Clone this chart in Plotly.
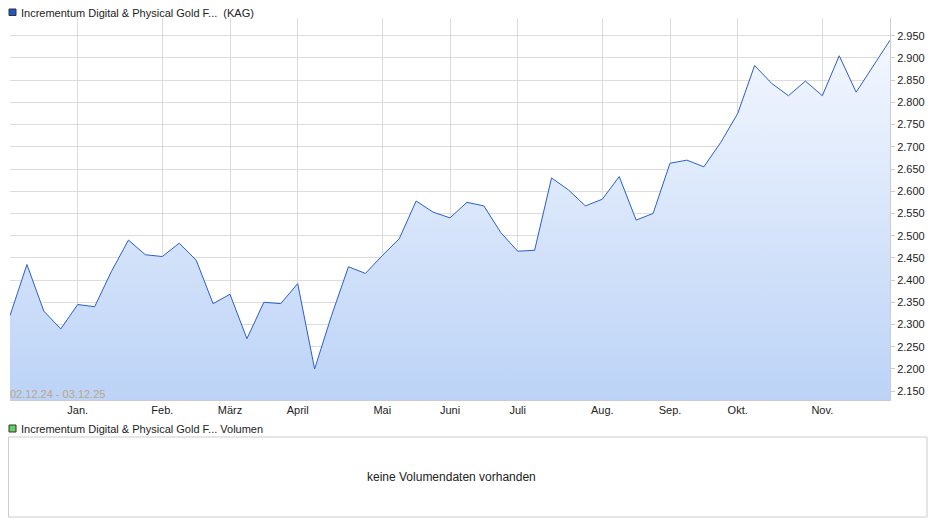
import plotly.graph_objs as go
import pandas as pd

dates = pd.date_range("2024-12-02", periods=53, freq="7D")
values = [2.32, 2.435, 2.33, 2.29, 2.345, 2.34, 2.42, 2.49, 2.457, 2.453,
          2.483, 2.445, 2.347, 2.368, 2.268, 2.35, 2.347, 2.392, 2.2, 2.32,
          2.43, 2.415, 2.455, 2.493, 2.578, 2.553, 2.54, 2.575, 2.567, 2.507,
          2.465, 2.467, 2.63, 2.603, 2.567, 2.582, 2.633, 2.535, 2.55, 2.663,
          2.67, 2.655, 2.71, 2.775, 2.883, 2.843, 2.815, 2.848, 2.815, 2.905,
          2.823, 2.88, 2.94]
tick_dates = ["2024-12-30", "2025-02-03", "2025-03-03", "2025-03-31", "2025-05-05",
              "2025-06-02", "2025-06-30", "2025-08-04", "2025-09-01", "2025-09-29",
              "2025-11-03"]
tick_text = ["Jan.", "Feb.", "März", "April", "Mai", "Juni", "Juli", "Aug.",
             "Sep.", "Okt.", "Nov."]
ytick_vals = [2.15 + 0.05 * i for i in range(17)]
ytick_text = [f"{v:.3f}" for v in ytick_vals]

ymin, ymax = 2.13, 2.99
# page puts the figure at an 8px offset, so size and place relative to that
OFF = 8
W, H = 940 - OFF, 526 - OFF
px = lambda x: (x - OFF) / W
py = lambda y: 1 - (y - OFF) / H

base = go.Scatter(x=dates, y=[ymin] * len(dates), mode="lines",
                  line=dict(width=0), hoverinfo="skip", showlegend=False)
line = go.Scatter(x=dates, y=values, mode="lines", fill="tonexty",
                  line=dict(color="#2a5fc9", width=1),
                  fillgradient=dict(type="vertical",
                                    colorscale=[[0, "#bcd3f7"], [1, "#f3f7fe"]]),
                  showlegend=False)

fig = go.Figure(data=[base, line])

font = dict(family="Liberation Sans, Arial", size=11, color="#222")
fig.update_layout(
    width=W, height=H, margin=dict(l=0, r=0, t=0, b=0),
    paper_bgcolor="white", plot_bgcolor="white", font=font,
    xaxis=dict(domain=[px(10), px(890)], type="date",
               range=[dates[0], dates[-1]],
               tickvals=tick_dates, ticktext=tick_text,
               showgrid=True, gridcolor="#dcdcdc", zeroline=False,
               showline=True, linecolor="#cccccc", ticks="", ticklen=0),
    yaxis=dict(domain=[py(400), py(18)], range=[ymin, ymax], side="right",
               tickvals=ytick_vals, ticktext=ytick_text,
               showgrid=True, gridcolor="#dcdcdc", zeroline=False,
               showline=True, linecolor="#cccccc", ticks="outside",
               ticklen=4, tickcolor="#cccccc"),
    shapes=[
        dict(type="rect", xref="paper", yref="paper", x0=px(8.5), x1=px(927),
             y0=py(517), y1=py(437), line=dict(color="#cccccc", width=1)),
        dict(type="rect", xref="paper", yref="paper", x0=px(9), x1=px(16),
             y0=py(15.5), y1=py(9), fillcolor="#2457c5", line=dict(color="#333", width=1)),
        dict(type="rect", xref="paper", yref="paper", x0=px(9), x1=px(16),
             y0=py(432), y1=py(425), fillcolor="#66cc66", line=dict(color="#333", width=1)),
    ],
    annotations=[
        dict(text="Incrementum Digital & Physical Gold F...  (KAG)", xref="paper",
             yref="paper", x=px(19), y=py(12.5), xanchor="left", yanchor="middle",
             showarrow=False, font=font),
        dict(text="Incrementum Digital & Physical Gold F... Volumen", xref="paper",
             yref="paper", x=px(19), y=py(428.5), xanchor="left", yanchor="middle",
             showarrow=False, font=font),
        dict(text="keine Volumendaten vorhanden", xref="paper", yref="paper",
             x=px(451), y=py(477), xanchor="center", yanchor="middle",
             showarrow=False, font=dict(family="Liberation Sans, Arial", size=12, color="#222")),
        dict(text="02.12.24 - 03.12.25", xref="paper", yref="paper",
             x=px(8), y=py(394), xanchor="left", yanchor="middle",
             showarrow=False, font=dict(family="Liberation Sans, Arial", size=11, color="#b8a88a")),
    ],
)

fig.write_html("out.html")
